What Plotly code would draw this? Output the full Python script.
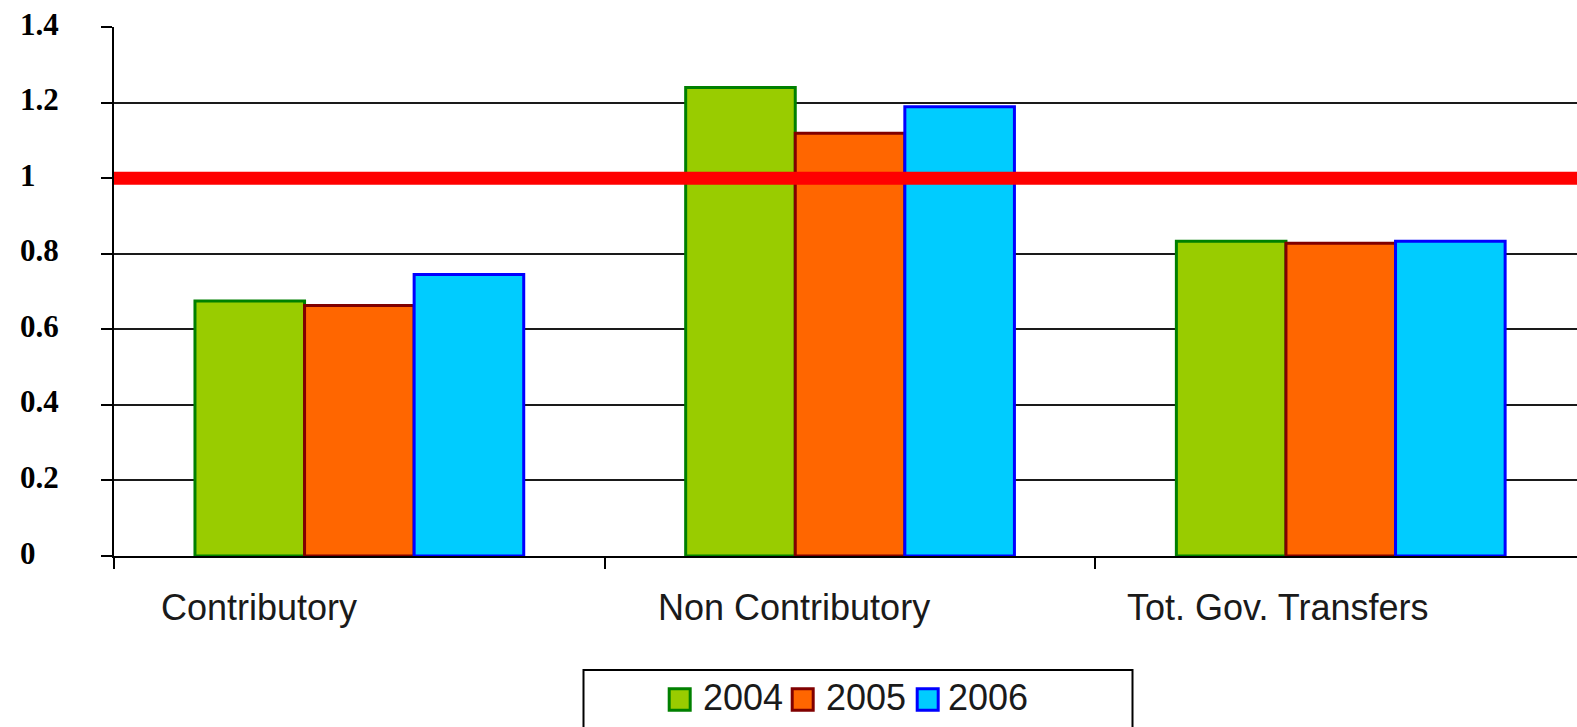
import plotly.graph_objects as go

# ---- data ----
categories = ["Contributory", "Non Contributory", "Tot. Gov. Transfers"]
years = ["2004", "2005", "2006"]
values_2004 = [0.675, 1.240, 0.833]
values_2005 = [0.663, 1.119, 0.828]
values_2006 = [0.745, 1.189, 0.833]
reference_level = 1.0
y_ticks = [0, 0.2, 0.4, 0.6, 0.8, 1, 1.2, 1.4]
y_tick_labels = ["0", "0.2", "0.4", "0.6", "0.8", "1", "1.2", "1.4"]

series = [values_2004, values_2005, values_2006]
fills = ["#99CC00", "#FF6600", "#00CCFF"]
edges = ["#008000", "#800000", "#0000FF"]

# ---- page geometry (pixels) ----
W, H = 1577, 727
ML, MR, MT, MB = 114, 0, 27, 171
PW = W - ML - MR
PH = H - MT - MB
CAT_W = 490.7  # pixel width of one category slot


def px_x(p):
    return (p - ML) / PW


def px_y(p):
    return (H - MB - p) / PH


fig = go.Figure()
for name, vals, fc, ec in zip(years, series, fills, edges):
    fig.add_trace(go.Bar(
        x=categories, y=vals, name=name,
        marker=dict(color=fc, line=dict(color=ec, width=3)),
        showlegend=False,
    ))

shapes = []
annotations = []

# horizontal reference line at 1
shapes.append(dict(type="line", xref="paper", yref="y",
                   x0=0, x1=1, y0=reference_level, y1=reference_level,
                   line=dict(color="#FF0000", width=13), layer="above"))

# y tick labels, left aligned
for v, t in zip(y_ticks, y_tick_labels):
    annotations.append(dict(
        xref="paper", yref="y", x=px_x(18), y=v, text=t,
        xanchor="left", yanchor="middle", yshift=3, showarrow=False,
        font=dict(family="Liberation Serif", size=31, color="#000000", weight="bold"),
    ))

# category labels
label_shift = [-100, -56, -63]
for c, dx in zip(categories, label_shift):
    annotations.append(dict(
        xref="x", yref="paper", x=c, y=px_y(607), text=c,
        xanchor="center", yanchor="middle", xshift=dx, showarrow=False,
        font=dict(family="Liberation Sans", size=36, color="#1a1a1a"),
    ))

# legend box
shapes.append(dict(type="rect", xref="paper", yref="paper",
                   x0=px_x(583.5), x1=px_x(1132.5), y0=px_y(760), y1=px_y(670),
                   line=dict(color="#000000", width=2), fillcolor="rgba(0,0,0,0)"))
sq_left = [669.2, 792.2, 917.2]
txt_left = [700.5, 823.5, 945.5]
for name, fc, ec, sx, tx in zip(years, fills, edges, sq_left, txt_left):
    shapes.append(dict(type="rect", xref="paper", yref="paper",
                       x0=px_x(sx), x1=px_x(sx + 21), y0=px_y(710.2), y1=px_y(688.7),
                       line=dict(color=ec, width=3), fillcolor=fc))
    annotations.append(dict(
        xref="paper", yref="paper", x=px_x(tx), y=px_y(697), text=name,
        xanchor="left", yanchor="middle", showarrow=False,
        font=dict(family="Liberation Sans", size=36, color="#1a1a1a"),
    ))

fig.update_layout(
    width=W, height=H,
    margin=dict(l=ML, r=MR, t=MT, b=MB, pad=0),
    paper_bgcolor="white", plot_bgcolor="white",
    barmode="group", bargap=0.33, bargroupgap=0,
    shapes=shapes, annotations=annotations,
    showlegend=False,
    xaxis=dict(
        type="category", range=[-0.5, -0.5 + PW / CAT_W],
        showgrid=False, showline=True, linecolor="#000000", linewidth=2,
        ticks="outside", tickson="boundaries", ticklen=11, tickwidth=2,
        tickcolor="#000000", showticklabels=False, zeroline=False,
    ),
    yaxis=dict(
        range=[0, 1.4], tickvals=y_ticks, showticklabels=False,
        showgrid=True, gridcolor="#1a1a1a", gridwidth=2,
        showline=True, linecolor="#000000", linewidth=2,
        ticks="outside", ticklen=11, tickwidth=2, tickcolor="#000000",
        zeroline=False,
    ),
)

fig.write_html("out.html")
